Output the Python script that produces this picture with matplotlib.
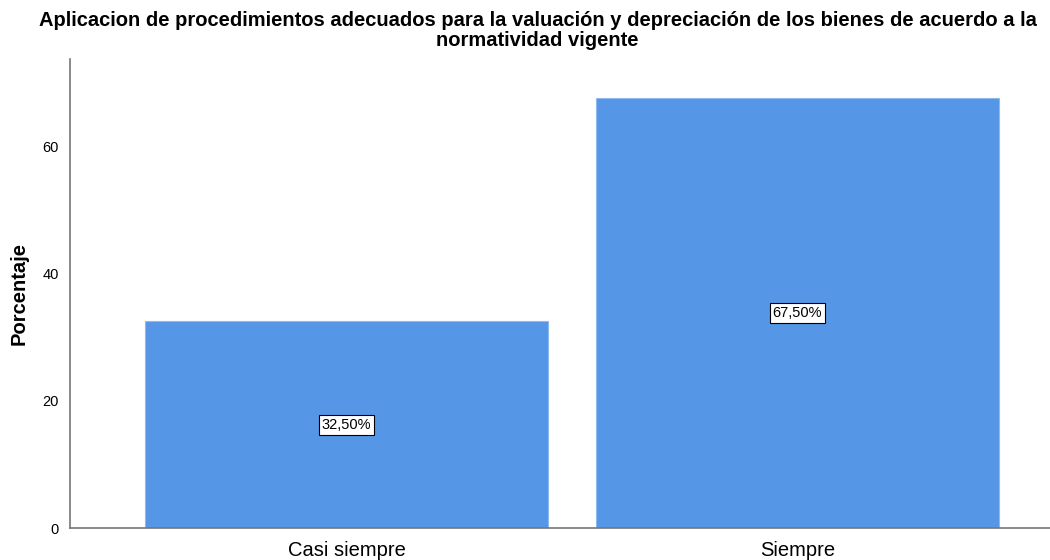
import matplotlib

matplotlib.use("Agg")
import matplotlib.pyplot as plt

categories = ["Casi siempre", "Siempre"]
percentages = [32.5, 67.5]
value_labels = ["32,50%", "67,50%"]
y_ticks = [0, 20, 40, 60]

plt.rcParams["font.family"] = ["Liberation Sans", "DejaVu Sans"]

fig = plt.figure(figsize=(10.5, 5.6), dpi=100)
ax = fig.add_axes([0.0667, 0.0571, 0.9333, 0.8375])

x = range(len(categories))
ax.bar(x, percentages, width=0.894, color="#5596e6", edgecolor="#8fbaf0", linewidth=0.8)
for xi, val, lab in zip(x, percentages, value_labels):
    ax.text(xi, val / 2, lab, ha="center", va="center", fontsize=10.5,
            bbox=dict(boxstyle="square,pad=0.2", facecolor="white", edgecolor="black", linewidth=0.8))

ax.set_xlim(-0.613, 1.56)
ax.set_ylim(0, 73.7)
ax.set_xticks(list(x))
ax.set_xticklabels(categories, fontsize=14.5)
ax.set_yticks(y_ticks)
ax.tick_params(axis="y", labelsize=10.5, length=0, pad=8)
ax.tick_params(axis="x", length=0, pad=9)
ax.set_ylabel("Porcentaje", fontsize=14.5, fontweight="bold", labelpad=10)

for side in ("top", "right"):
    ax.spines[side].set_visible(False)
for side in ("left", "bottom"):
    ax.spines[side].set_color("#777777")
    ax.spines[side].set_linewidth(1.2)

fig.suptitle("Aplicacion de procedimientos adecuados para la valuación y depreciación de los bienes de acuerdo a la\nnormatividad vigente",
             x=0.512, y=0.98, fontsize=14.5, fontweight="bold", linespacing=1.05)

fig.savefig("out.png", dpi=100)
